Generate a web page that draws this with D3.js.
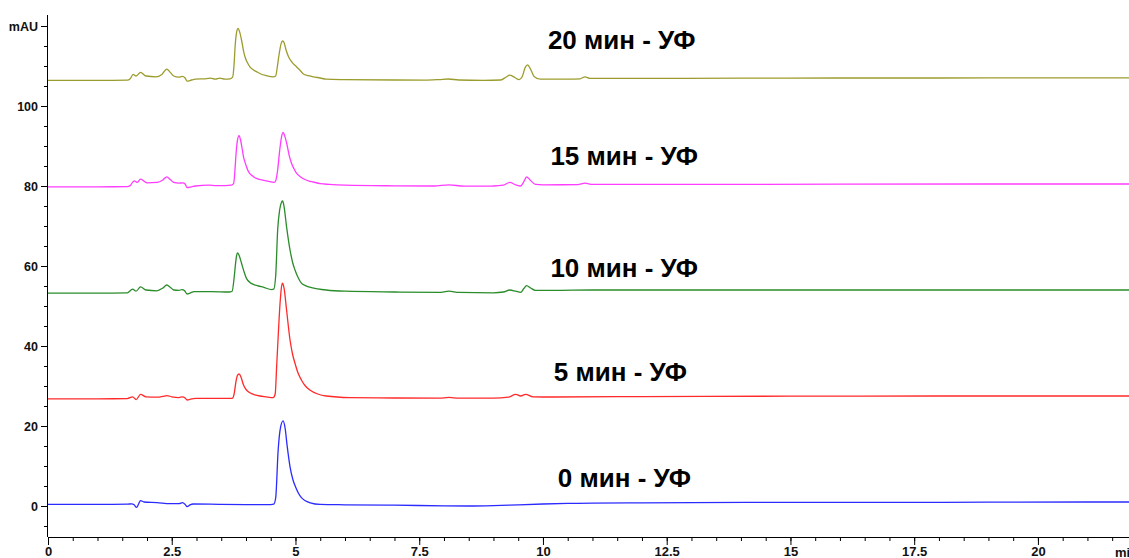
<!DOCTYPE html>
<html>
<head>
<meta charset="utf-8">
<script src="https://cdn.jsdelivr.net/npm/d3@7"></script>
<style>
  html, body { margin: 0; padding: 0; background: #fff; }
  svg { display: block; font-family: "Liberation Sans", Arial, sans-serif; }
</style>
</head>
<body>
<svg id="chart" width="1129" height="558"></svg>
<script>
// Retention time (min) and absorbance (mAU) for each UV exposure time
const trace0 = [[0,0.4],[1.0,0.4],[1.6,0.45],[1.69,0.55],[1.74,0.3],[1.79,-0.35],[1.83,0.5],[1.87,1.35],[1.94,1.0],[2.2,0.85],[2.47,0.6],[2.65,0.6],[2.72,0.85],[2.77,0.4],[2.81,-0.15],[2.87,0.3],[2.93,0.5],[3.5,0.4],[4.0,0.35],[4.5,0.35],[4.56,0.45],[4.60,2.0],[4.65,14.0],[4.70,19.8],[4.75,21.3],[4.79,19.5],[4.83,15.2],[4.89,9.8],[4.95,6.5],[5.0,4.8],[5.06,3.2],[5.12,2.1],[5.2,1.3],[5.3,0.8],[5.5,0.4],[6.0,0.3],[7.0,0.2],[8.0,0.05],[8.5,0.0],[9.0,0.1],[9.5,0.3],[10.0,0.5],[10.5,0.65],[11.0,0.7],[12.0,0.8],[13.0,0.85],[15.0,0.9],[17.0,0.9],[19.0,0.95],[21.0,1.0],[21.84,1.0]];

const trace5 = [[0,26.8],[1.0,26.8],[1.6,26.85],[1.71,27.3],[1.78,26.6],[1.87,27.9],[1.98,27.3],[2.2,27.2],[2.32,27.4],[2.4,27.6],[2.5,27.3],[2.64,27.1],[2.72,27.3],[2.77,27.0],[2.81,26.5],[2.88,26.7],[2.98,26.9],[3.5,26.9],[3.72,26.9],[3.76,28.0],[3.80,31.3],[3.83,32.7],[3.86,33.0],[3.9,32.2],[3.95,30.25],[4.01,29.0],[4.08,28.3],[4.18,27.8],[4.28,27.5],[4.4,27.3],[4.55,27.1],[4.59,28.0],[4.62,35.0],[4.65,42.3],[4.69,51.0],[4.72,55.0],[4.74,55.7],[4.77,54.4],[4.82,49.0],[4.89,41.5],[4.94,38.0],[4.99,35.7],[5.05,33.3],[5.12,31.5],[5.2,30.0],[5.29,29.0],[5.45,28.0],[5.62,27.5],[6.1,27.1],[7.0,27.0],[7.9,26.95],[8.1,27.15],[8.3,26.95],[9.0,26.95],[9.3,27.2],[9.45,27.9],[9.55,27.5],[9.65,27.9],[9.8,27.3],[10.2,27.25],[12,27.35],[15,27.45],[18,27.5],[21.84,27.5]];

const trace10 = [[0,53.2],[1.0,53.2],[1.6,53.3],[1.71,54.2],[1.78,53.7],[1.87,54.8],[1.98,54.0],[2.2,53.8],[2.32,54.5],[2.4,55.25],[2.47,54.7],[2.54,54.0],[2.64,53.9],[2.71,54.1],[2.76,53.8],[2.81,53.0],[2.88,53.3],[2.95,53.6],[3.3,53.6],[3.66,53.5],[3.72,53.7],[3.76,57.0],[3.79,60.7],[3.81,62.6],[3.83,63.3],[3.86,62.7],[3.91,60.7],[3.96,58.6],[4.01,56.9],[4.08,55.9],[4.15,55.4],[4.25,55.0],[4.35,54.7],[4.52,54.1],[4.56,54.2],[4.60,57.5],[4.64,69.0],[4.68,74.0],[4.72,76.0],[4.74,76.25],[4.77,74.8],[4.82,69.8],[4.89,64.0],[4.94,61.0],[4.99,59.0],[5.05,57.2],[5.12,55.7],[5.2,55.1],[5.29,54.7],[5.45,54.3],[5.62,54.0],[6.0,53.7],[7.0,53.5],[7.9,53.4],[8.1,53.7],[8.3,53.4],[9.0,53.3],[9.2,53.5],[9.33,54.0],[9.45,53.7],[9.55,53.4],[9.61,54.3],[9.67,55.1],[9.75,54.5],[9.85,53.9],[10.2,53.9],[11,54.0],[14,54.0],[18,54.0],[21.84,54.0]];

const trace15 = [[0,79.8],[1.0,79.8],[1.6,79.85],[1.66,80.1],[1.74,81.3],[1.80,80.9],[1.87,81.7],[2.0,80.8],[2.2,80.9],[2.32,81.5],[2.4,82.3],[2.47,81.6],[2.54,80.9],[2.64,80.7],[2.72,80.8],[2.77,80.5],[2.81,79.6],[2.9,79.8],[2.98,80.0],[3.25,80.2],[3.4,80.1],[3.59,80.1],[3.7,80.2],[3.75,80.6],[3.78,84.5],[3.80,88.2],[3.83,91.6],[3.86,92.6],[3.89,91.5],[3.92,89.5],[3.95,87.3],[4.0,85.2],[4.05,83.6],[4.12,82.6],[4.21,81.9],[4.3,81.6],[4.41,81.3],[4.57,80.9],[4.60,81.3],[4.64,84.0],[4.68,88.8],[4.72,92.4],[4.75,93.4],[4.78,92.6],[4.83,90.25],[4.87,87.8],[4.92,85.7],[4.97,84.3],[5.02,83.2],[5.09,82.4],[5.16,81.8],[5.26,81.3],[5.36,81.0],[5.5,80.6],[5.68,80.4],[6.0,80.2],[7.0,80.05],[7.8,80.0],[8.1,80.3],[8.4,79.95],[9.0,80.0],[9.2,80.2],[9.33,80.9],[9.45,80.3],[9.55,80.0],[9.61,81.0],[9.67,82.3],[9.74,81.5],[9.85,80.4],[10.0,80.3],[10.7,80.35],[10.85,80.7],[11.0,80.4],[13,80.4],[16,80.45],[19,80.5],[21.84,80.5]];

const trace20 = [[0,106.4],[1.0,106.4],[1.6,106.45],[1.66,106.8],[1.72,107.9],[1.78,107.5],[1.87,108.4],[1.98,107.5],[2.18,107.3],[2.3,107.9],[2.4,109.2],[2.47,108.4],[2.54,107.5],[2.64,107.2],[2.71,107.4],[2.77,107.0],[2.81,106.2],[2.9,106.5],[2.98,106.7],[3.15,106.8],[3.28,106.95],[3.38,106.7],[3.47,106.95],[3.57,106.7],[3.68,106.8],[3.73,107.2],[3.76,110.5],[3.78,114.8],[3.81,118.4],[3.84,119.4],[3.87,118.6],[3.91,116.5],[3.95,113.8],[3.98,112.3],[4.03,110.8],[4.08,109.8],[4.14,109.1],[4.21,108.6],[4.3,108.0],[4.41,107.6],[4.55,107.3],[4.60,107.5],[4.63,109.5],[4.67,113.0],[4.71,115.6],[4.74,116.25],[4.77,115.8],[4.81,114.0],[4.86,112.3],[4.92,111.1],[5.02,109.8],[5.1,108.8],[5.16,108.0],[5.26,107.6],[5.36,107.3],[5.5,107.0],[5.62,106.7],[6.0,106.6],[7.0,106.5],[7.6,106.45],[7.9,106.6],[8.09,106.75],[8.3,106.5],[8.8,106.4],[9.15,106.5],[9.25,107.2],[9.33,107.7],[9.42,107.2],[9.52,106.6],[9.58,107.3],[9.64,109.6],[9.69,110.3],[9.75,109.2],[9.82,107.4],[9.95,106.7],[10.5,106.7],[10.75,106.8],[10.85,107.3],[10.95,106.9],[12,106.9],[14,106.95],[16,107.0],[18,107.0],[20,107.05],[21.84,107.05]];

const traceColors = ["#2b2bff", "#ff2a2a", "#2a8c2a", "#ff3cff", "#9c9c2e"];
const traceNames = ["0 мин - УФ", "5 мин - УФ", "10 мин - УФ", "15 мин - УФ", "20 мин - УФ"];
// caption anchor: [time, mAU] of the left end of each caption
const labelAnchors = [[10.3, 7], [10.22, 33.5], [10.15, 59.5], [10.15, 87.5], [10.1, 116.5]];

const xTicks = [0, 2.5, 5, 7.5, 10, 12.5, 15, 17.5, 20];
const yTicks = [0, 20, 40, 60, 80, 100];

const traces = [trace0, trace5, trace10, trace15, trace20];

const svg = d3.select("#chart");
const W = 1129, H = 558;
const mLeft = 48, mTop = 15, mBottom = 537;

const x = d3.scaleLinear().domain([0, 21.84]).range([mLeft, W]);
const y = d3.scaleLinear().domain([-7.75, 122.75]).range([mBottom, mTop]);

svg.append("rect").attr("width", W).attr("height", H).attr("fill", "#fff");

// traces
const line = d3.line()
  .x(d => x(d[0]))
  .y(d => y(d[1]))
  .curve(d3.curveMonotoneX);

svg.append("g").selectAll("path")
  .data(traces)
  .join("path")
  .attr("d", line)
  .attr("fill", "none")
  .attr("stroke", (d, i) => traceColors[i])
  .attr("stroke-width", 1.3)
  .attr("stroke-linejoin", "round");

// x axis: major ticks every 2.5 min, minor every 0.5 min
const gx = svg.append("g").attr("transform", `translate(0,${mBottom})`);
gx.append("g")
  .call(d3.axisBottom(x).tickValues(d3.range(0, 21.84, 0.5)).tickSize(4).tickFormat(""))
  .call(g => g.select(".domain").remove());
gx.append("g")
  .call(d3.axisBottom(x).tickValues(xTicks).tickSize(8).tickPadding(2).tickFormat(d3.format("")))
  .call(g => g.select(".domain").attr("d", `M${mLeft},0.5H${W}`));
gx.selectAll("line").attr("stroke", "#000");
gx.selectAll("text")
  .attr("font-size", 13).attr("font-weight", "bold").attr("fill", "#111")
  .attr("font-family", "'Liberation Sans', Arial, sans-serif");

svg.append("text")
  .attr("x", 1115).attr("y", 557)
  .attr("font-size", 13).attr("font-weight", "bold").attr("fill", "#111")
  .text("min");

// y axis: major ticks every 20 mAU, minor every 5 mAU
const gy = svg.append("g").attr("transform", `translate(${mLeft},0)`);
gy.append("g")
  .call(d3.axisLeft(y).tickValues(d3.range(-5, 121, 5)).tickSize(4).tickFormat(""))
  .call(g => g.select(".domain").remove());
gy.append("g")
  .call(d3.axisLeft(y).tickValues(yTicks.concat([120])).tickSize(7).tickPadding(3)
    .tickFormat(d => d === 120 ? "mAU" : d))
  .call(g => g.select(".domain").attr("d", `M-0.5,${mTop}V${mBottom}`));
gy.selectAll("line").attr("stroke", "#000");
gy.selectAll("text")
  .attr("font-size", 12.5).attr("font-weight", "bold").attr("fill", "#111")
  .attr("font-family", "'Liberation Sans', Arial, sans-serif");

// captions
svg.append("g").selectAll("text")
  .data(traceNames)
  .join("text")
  .attr("x", (d, i) => x(labelAnchors[i][0]))
  .attr("y", (d, i) => y(labelAnchors[i][1]))
  .attr("dominant-baseline", "central")
  .attr("font-size", 26).attr("font-weight", "bold").attr("fill", "#000")
  .text(d => d);
</script>
</body>
</html>
